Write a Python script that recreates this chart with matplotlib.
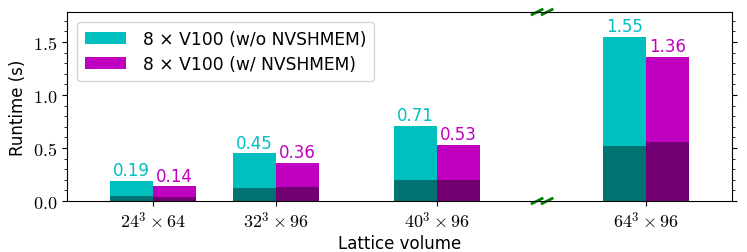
import matplotlib
matplotlib.use("Agg")
import matplotlib.pyplot as plt
from matplotlib.ticker import MultipleLocator, FuncFormatter

plt.rcParams['mathtext.fontset'] = 'cm'
plt.rcParams['font.family'] = ['DejaVu Sans']
plt.rcParams['font.size'] = 12

# data
lattices = [r'$24^3 \times 64$', r'$32^3 \times 96$', r'$40^3 \times 96$', r'$64^3 \times 96$']
x_pos = [0.0, 1.0, 2.31, 4.01]
runtime_wo = [0.19, 0.45, 0.71, 1.55]
runtime_w = [0.14, 0.36, 0.53, 1.36]
base_wo = [0.047, 0.12, 0.20, 0.515]
base_w = [0.040, 0.13, 0.20, 0.556]
labels = ['8 × V100 (w/o NVSHMEM)', '8 × V100 (w/ NVSHMEM)']

width = 0.35
c_wo, c_w = '#00bfbf', '#bf00bf'

fig = plt.figure(figsize=(7.47, 2.53), dpi=100)
ax = fig.add_axes([0.0897, 0.2016, 0.8902, 0.747])

xl = [x - width / 2 for x in x_pos]
xr = [x + width / 2 for x in x_pos]

ax.bar(xl, runtime_wo, width, color=c_wo, label=labels[0])
ax.bar(xr, runtime_w, width, color=c_w, label=labels[1])
ax.bar(xl, base_wo, width, color='black', alpha=0.4)
ax.bar(xr, base_w, width, color='black', alpha=0.4)

for x, v in zip(xl, runtime_wo):
    ax.annotate(f"{v:.2f}", (x, v), xytext=(0, 1), textcoords='offset points',
                ha='center', va='bottom', color=c_wo, fontsize=12)
for x, v in zip(xr, runtime_w):
    ax.annotate(f"{v:.2f}", (x, v), xytext=(0, 1), textcoords='offset points',
                ha='center', va='bottom', color=c_w, fontsize=12)

ax.set_xlim(-0.70, 4.71)
ax.set_ylim(0, max(runtime_wo) * 1.15)
ax.set_xticks(x_pos)
ax.set_xticklabels(lattices, fontsize=13)
ax.yaxis.set_major_locator(MultipleLocator(0.5))
ax.yaxis.set_minor_locator(MultipleLocator(0.1))
ax.yaxis.set_major_formatter(FuncFormatter(lambda v, p: f"${v:.1f}$"))
ax.tick_params(axis='y', which='both', right=True, labelsize=13)
ax.set_ylabel("Runtime (s)", fontsize=12)
ax.set_xlabel("Lattice volume", fontsize=12, labelpad=2)

ax.legend(loc='upper left', bbox_to_anchor=(0.015, 0.947), borderaxespad=0,
          fontsize=12.3, handlelength=2.4, borderpad=0.45, labelspacing=0.45,
          handletextpad=1.0)

# broken axis marks
bx = (3.165 + 0.70) / (4.71 + 0.70)
dx, dy = 0.0075, 0.0132
for y0 in (0, 1):
    for off in (-0.0075, 0.0075):
        ax.plot([bx + off - dx, bx + off + dx], [y0 - dy, y0 + dy],
                transform=ax.transAxes, color='green', lw=2, clip_on=False)

fig.savefig("out.png", dpi=100)
